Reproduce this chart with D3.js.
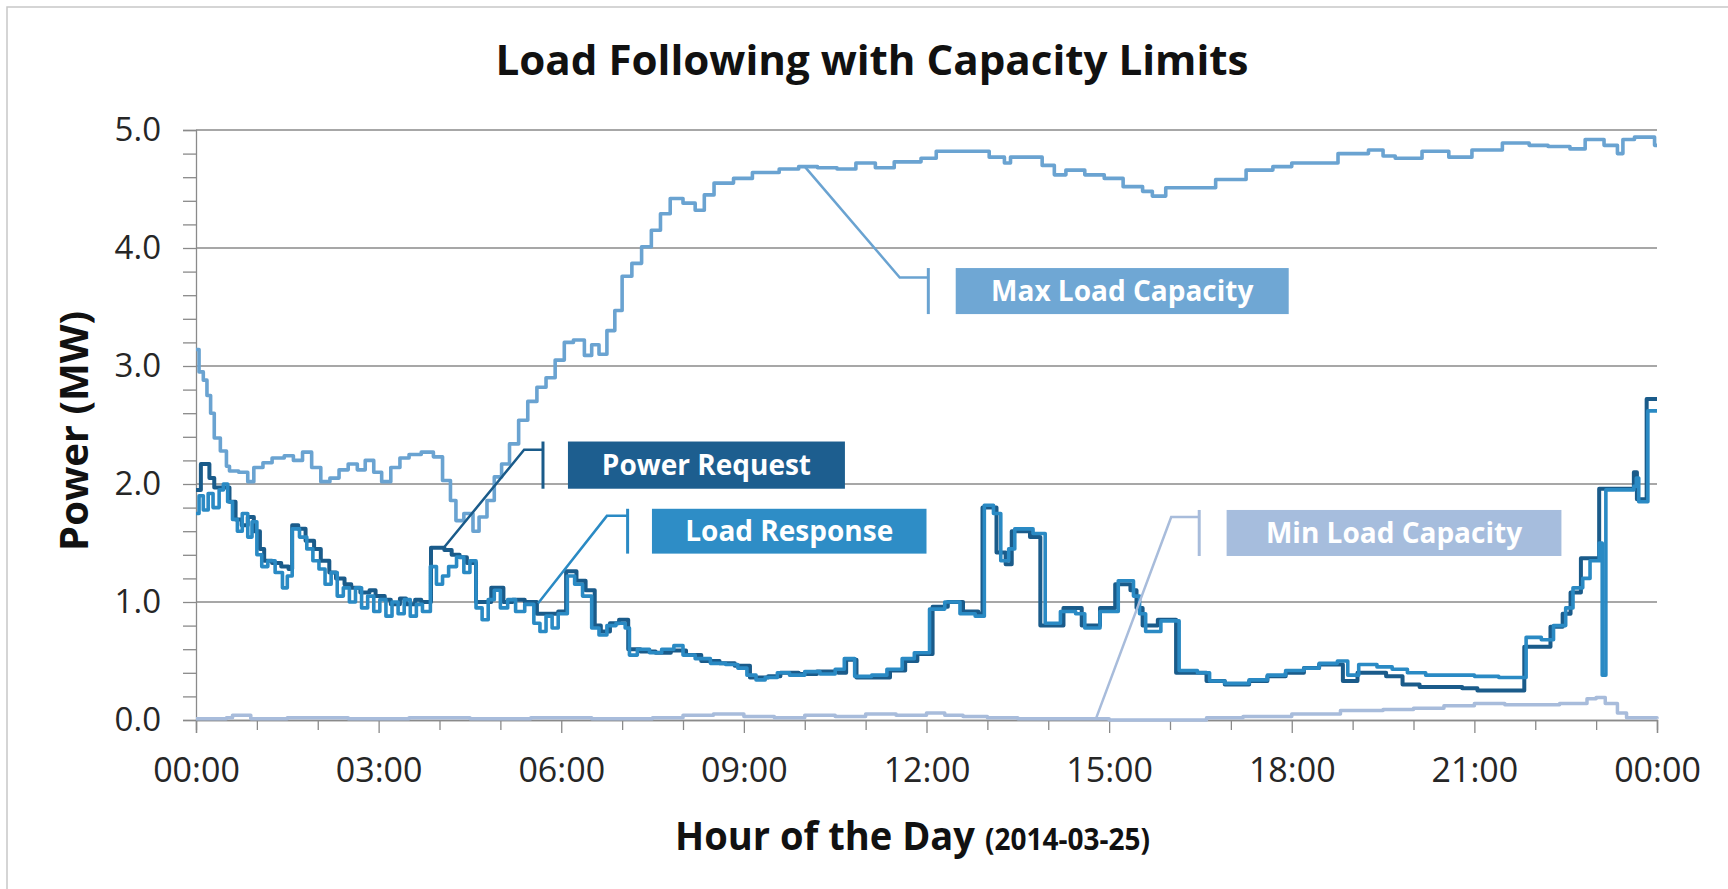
<!DOCTYPE html>
<html>
<head>
<meta charset="utf-8">
<script src="https://cdn.jsdelivr.net/npm/d3@7"></script>
<style>
  body { margin: 0; background: #fff; }
  svg { display: block; }
  text { font-family: "Open Sans", Lato, sans-serif; }
</style>
</head>
<body>
<div id="chart"></div>
<script>
// ---- data: [hour of day, MW] ----
const powerRequest = [
  [0.00,1.95],[0.08,2.17],[0.22,2.05],[0.30,1.97],[0.45,1.97],[0.55,1.85],[0.65,1.70],[0.75,1.65],
  [0.85,1.72],[0.95,1.60],[1.05,1.45],[1.12,1.35],[1.25,1.33],[1.40,1.30],[1.52,1.28],[1.58,1.65],
  [1.68,1.62],[1.80,1.52],[1.94,1.45],[2.05,1.35],[2.19,1.25],[2.30,1.20],[2.44,1.15],[2.55,1.12],
  [2.70,1.08],[2.85,1.10],[2.95,1.05],[3.10,1.02],[3.20,0.98],[3.35,1.03],[3.45,0.98],[3.60,1.02],
  [3.70,1.00],[3.86,1.46],[4.08,1.44],[4.20,1.40],[4.33,1.38],[4.45,1.33],[4.60,1.00],[4.75,1.00],
  [4.85,1.12],[5.05,1.00],[5.20,1.02],[5.40,1.00],[5.60,0.90],[5.95,0.92],[6.08,1.26],[6.25,1.18],
  [6.40,1.10],[6.55,0.80],[6.65,0.75],[6.80,0.82],[6.95,0.85],[7.10,0.60],[7.30,0.58],[7.55,0.57],
  [7.80,0.59],[8.05,0.55],[8.30,0.50],[8.60,0.48],[8.85,0.46],[9.10,0.36],[9.40,0.37],[9.60,0.40],
  [9.90,0.39],[10.20,0.41],[10.55,0.40],[10.68,0.51],[10.85,0.36],[11.40,0.42],[11.65,0.50],[11.85,0.56],
  [12.10,0.96],[12.35,1.00],[12.60,0.92],[12.85,0.90],[12.92,1.80],[13.15,1.42],[13.30,1.32],[13.40,1.60],
  [13.70,1.55],[13.87,0.80],[14.25,0.95],[14.55,0.80],[14.85,0.95],[15.10,1.15],[15.35,1.10],[15.45,0.95],
  [15.55,0.80],[15.80,0.85],[16.10,0.40],[16.60,0.33],[16.90,0.30],[17.30,0.33],[17.60,0.37],[17.90,0.40],
  [18.20,0.44],[18.45,0.47],[18.84,0.33],[19.08,0.40],[19.55,0.37],[19.82,0.30],[20.10,0.28],[20.80,0.27],
  [21.05,0.25],[21.82,0.62],[22.25,0.79],[22.45,0.90],[22.58,1.08],[22.75,1.37],[23.05,1.96],[23.62,2.10],
  [23.67,1.87],[23.83,2.72],[24.00,2.72]
];

const loadResponse = [
  [0.00,1.75],[0.05,1.90],[0.12,1.78],[0.20,1.92],[0.28,1.80],[0.38,1.95],[0.45,2.00],[0.52,1.85],
  [0.60,1.70],[0.68,1.60],[0.76,1.75],[0.85,1.55],[0.92,1.68],[1.00,1.40],[1.08,1.30],[1.18,1.35],
  [1.30,1.25],[1.42,1.12],[1.50,1.22],[1.58,1.62],[1.70,1.55],[1.82,1.45],[1.92,1.35],[2.02,1.28],
  [2.12,1.15],[2.22,1.25],[2.32,1.05],[2.42,1.12],[2.52,1.00],[2.62,1.12],[2.72,0.95],[2.82,1.05],
  [2.92,0.92],[3.02,1.02],[3.12,0.88],[3.22,1.00],[3.32,0.90],[3.42,1.02],[3.52,0.88],[3.62,0.98],
  [3.72,0.92],[3.85,1.30],[3.95,1.15],[4.05,1.22],[4.15,1.30],[4.28,1.38],[4.40,1.25],[4.50,1.35],
  [4.60,0.95],[4.70,0.85],[4.80,1.02],[4.90,1.10],[5.00,0.95],[5.12,1.02],[5.25,0.92],[5.40,0.98],
  [5.55,0.82],[5.65,0.75],[5.75,0.88],[5.85,0.78],[5.95,0.90],[6.10,1.22],[6.22,1.15],[6.35,1.05],
  [6.50,0.78],[6.62,0.72],[6.75,0.80],[6.90,0.82],[7.05,0.78],[7.12,0.55],[7.25,0.60],[7.45,0.57],
  [7.65,0.60],[7.85,0.63],[8.00,0.55],[8.20,0.52],[8.45,0.48],[8.70,0.47],[8.90,0.44],[9.05,0.38],
  [9.20,0.34],[9.35,0.36],[9.55,0.40],[9.75,0.38],[10.00,0.41],[10.25,0.39],[10.50,0.43],[10.65,0.52],
  [10.82,0.37],[11.10,0.38],[11.35,0.43],[11.60,0.52],[11.80,0.57],[12.05,0.94],[12.30,1.00],[12.55,0.90],
  [12.80,0.88],[12.95,1.82],[13.10,1.75],[13.22,1.35],[13.35,1.45],[13.45,1.62],[13.75,1.58],[13.95,0.82],
  [14.20,0.92],[14.45,0.90],[14.60,0.78],[14.85,0.92],[15.15,1.18],[15.40,1.05],[15.50,0.90],[15.60,0.75],
  [15.85,0.84],[16.15,0.42],[16.45,0.40],[16.65,0.33],[16.90,0.31],[17.30,0.34],[17.60,0.38],[17.90,0.42],
  [18.20,0.44],[18.45,0.48],[18.75,0.50],[18.92,0.38],[19.10,0.47],[19.40,0.45],[19.65,0.43],[19.90,0.40],
  [20.20,0.38],[20.60,0.38],[21.00,0.37],[21.40,0.36],[21.85,0.70],[22.10,0.68],[22.30,0.80],[22.50,0.95],
  [22.62,1.12],[22.78,1.20],[22.90,1.35],[23.05,1.50],[23.10,0.38],[23.16,1.95],[23.62,1.98],[23.66,2.05],
  [23.70,1.85],[23.85,2.62],[24.00,2.62]
];

const maxLoadCapacity = [
  [0.00,3.14],[0.05,2.95],[0.12,2.88],[0.18,2.75],[0.24,2.60],[0.30,2.39],[0.40,2.28],[0.50,2.15],
  [0.55,2.11],[0.70,2.10],[0.85,2.02],[0.95,2.14],[1.10,2.18],[1.25,2.22],[1.45,2.24],[1.60,2.20],
  [1.75,2.27],[1.90,2.14],[2.05,2.02],[2.20,2.05],[2.35,2.12],[2.50,2.17],[2.65,2.12],[2.78,2.20],
  [2.92,2.10],[3.05,2.02],[3.20,2.14],[3.35,2.22],[3.50,2.25],[3.70,2.27],[3.90,2.23],[4.05,2.03],
  [4.18,1.86],[4.27,1.69],[4.40,1.75],[4.55,1.60],[4.65,1.72],[4.78,1.86],[4.90,2.06],[5.02,2.17],
  [5.15,2.34],[5.30,2.54],[5.45,2.70],[5.60,2.82],[5.75,2.90],[5.90,3.05],[6.05,3.20],[6.20,3.22],
  [6.38,3.09],[6.50,3.18],[6.62,3.10],[6.75,3.30],[6.88,3.47],[7.00,3.76],[7.16,3.87],[7.32,4.01],
  [7.48,4.15],[7.63,4.29],[7.79,4.42],[8.00,4.38],[8.20,4.32],[8.35,4.45],[8.51,4.55],[8.83,4.59],
  [9.14,4.64],[9.58,4.67],[9.90,4.69],[10.21,4.68],[10.53,4.67],[10.84,4.72],[11.16,4.68],[11.47,4.73],
  [11.91,4.76],[12.16,4.82],[12.66,4.82],[13.03,4.77],[13.28,4.72],[13.38,4.77],[13.72,4.77],[13.90,4.70],
  [14.10,4.62],[14.29,4.66],[14.60,4.62],[14.92,4.59],[15.23,4.52],[15.55,4.48],[15.71,4.44],[15.93,4.51],
  [16.37,4.51],[16.75,4.58],[17.25,4.66],[17.69,4.69],[18.00,4.72],[18.44,4.72],[18.76,4.80],[19.26,4.83],
  [19.50,4.78],[19.70,4.76],[20.14,4.82],[20.58,4.77],[20.96,4.83],[21.46,4.89],[21.90,4.87],[22.21,4.86],
  [22.57,4.84],[22.82,4.92],[23.13,4.87],[23.35,4.80],[23.44,4.92],[23.63,4.94],[23.96,4.87],[24.00,4.87]
];

const minLoadCapacity = [
  [0.00,0.01],[0.50,0.02],[0.60,0.04],[0.90,0.01],[1.50,0.02],[2.50,0.01],[3.50,0.02],[4.50,0.01],
  [5.50,0.02],[6.50,0.01],[7.50,0.02],[8.00,0.04],[8.50,0.05],[9.00,0.03],[9.50,0.02],[10.00,0.04],
  [10.50,0.03],[11.00,0.05],[11.50,0.04],[12.00,0.06],[12.30,0.04],[12.60,0.03],[13.00,0.02],[13.50,0.01],
  [14.00,0.01],[15.00,0.00],[16.00,0.00],[16.60,0.02],[17.20,0.03],[18.00,0.05],[18.80,0.08],[19.50,0.09],
  [20.00,0.10],[20.50,0.12],[21.00,0.14],[21.50,0.13],[22.00,0.13],[22.40,0.14],[22.85,0.18],[23.00,0.19],
  [23.15,0.14],[23.35,0.06],[23.50,0.02],[24.00,0.01]
];

const xTickHours = [0, 3, 6, 9, 12, 15, 18, 21, 24];
const yTickValues = [0, 1, 2, 3, 4, 5];

// callout labels, anchored in data units
const callouts = [
  {label: "Max Load Capacity", at: [10.0, 4.69], elbow: [11.56, 3.75], cap: 12.03, box: [12.48, 17.95], top: 3.83, bottom: 3.44, color: "#6fa7d4", line: "#6aa3d1"},
  {label: "Power Request", at: [4.07, 1.46], elbow: [5.39, 2.29], cap: 5.70, box: [6.11, 10.66], top: 2.36, bottom: 1.96, color: "#1d5e8f", line: "#1a5b8a"},
  {label: "Load Response", at: [5.62, 0.99], elbow: [6.75, 1.73], cap: 7.09, box: [7.49, 12.0], top: 1.79, bottom: 1.41, color: "#2e8dc6", line: "#2a8ac4"},
  {label: "Min Load Capacity", at: [14.79, 0.02], elbow: [16.02, 1.72], cap: 16.48, box: [16.93, 22.43], top: 1.78, bottom: 1.39, color: "#a6bddd", line: "#a8bcdb"}
];

//--------------------------------------------------------------
const W = 1728, H = 889;
const svg = d3.select("#chart").append("svg").attr("width", W).attr("height", H);

// outer frame (top + left only visible)
svg.append("path").attr("d", `M7,${H} V7 H${W}`).attr("fill", "none").attr("stroke", "#c8c8c8").attr("stroke-width", 1.5);

const x = d3.scaleLinear().domain([0, 24]).range([196, 1657]);
const y = d3.scaleLinear().domain([0, 5]).range([720, 130]);

// gridlines
svg.append("g").selectAll("line")
  .data(yTickValues.filter(d => d > 0))
  .join("line")
  .attr("x1", x(0)).attr("x2", x(24))
  .attr("y1", d => y(d)).attr("y2", d => y(d))
  .attr("stroke", "#8a8a8a").attr("stroke-width", 1.3);

// y axis with minor ticks every 0.2
const yAxis = svg.append("g")
  .attr("transform", `translate(${x(0)},0)`)
  .call(d3.axisLeft(y)
    .tickValues(d3.range(0, 26).map(i => i / 5))
    .tickSize(13)
    .tickPadding(22)
    .tickFormat(d => Math.abs(d - Math.round(d)) < 1e-6 ? d.toFixed(1) : ""));
yAxis.select(".domain").attr("stroke", "#8a8a8a").attr("stroke-width", 1.3);
yAxis.selectAll(".tick line").attr("stroke", "#8a8a8a").attr("stroke-width", 1.3);
yAxis.selectAll("text").attr("font-size", 33).attr("fill", "#262626")
  .style("font-family", '"Open Sans", Lato, sans-serif');

// x axis: hourly ticks, labels every 3 hours
const xMinor = svg.append("g")
  .attr("transform", `translate(0,${y(0)})`)
  .call(d3.axisBottom(x).tickValues(d3.range(0, 25).filter(h => h % 3 !== 0)).tickSize(10).tickFormat(""));
const xAxis = svg.append("g")
  .attr("transform", `translate(0,${y(0)})`)
  .call(d3.axisBottom(x)
    .tickValues(xTickHours)
    .tickSize(13)
    .tickPadding(25)
    .tickFormat(h => String(h % 24).padStart(2, "0") + ":00"));
[xMinor, xAxis].forEach(g => {
  g.select(".domain").attr("stroke", "#8a8a8a").attr("stroke-width", 1.3);
  g.selectAll(".tick line").attr("stroke", "#8a8a8a").attr("stroke-width", 1.3);
});
xAxis.selectAll("text").attr("font-size", 34).attr("fill", "#262626")
  .style("font-family", '"Open Sans", Lato, sans-serif');

// series
const line = d3.line().x(d => x(d[0])).y(d => y(d[1])).curve(d3.curveStepAfter);
const series = [
  {data: minLoadCapacity, color: "#a8bcdb", w: 3.5},
  {data: maxLoadCapacity, color: "#6aa3d1", w: 3.6},
  {data: powerRequest, color: "#1a5b8a", w: 4},
  {data: loadResponse, color: "#2a8ac4", w: 3.6}
];
svg.append("g").selectAll("path")
  .data(series)
  .join("path")
  .attr("d", d => line(d.data))
  .attr("fill", "none")
  .attr("stroke", d => d.color)
  .attr("stroke-width", d => d.w)
  .attr("stroke-linejoin", "round");

// callouts
const co = svg.append("g").selectAll("g").data(callouts).join("g");
co.append("path")
  .attr("d", d => `M${x(d.at[0])},${y(d.at[1])} L${x(d.elbow[0])},${y(d.elbow[1])} H${x(d.cap)}`)
  .attr("fill", "none").attr("stroke", d => d.line).attr("stroke-width", 2.5);
co.append("line")
  .attr("x1", d => x(d.cap)).attr("x2", d => x(d.cap))
  .attr("y1", d => y(d.top)).attr("y2", d => y(d.bottom))
  .attr("stroke", d => d.line).attr("stroke-width", 3);
co.append("rect")
  .attr("x", d => x(d.box[0])).attr("y", d => y(d.top))
  .attr("width", d => x(d.box[1]) - x(d.box[0]))
  .attr("height", d => y(d.bottom) - y(d.top))
  .attr("fill", d => d.color);
co.append("text")
  .attr("x", d => (x(d.box[0]) + x(d.box[1])) / 2)
  .attr("y", d => (y(d.top) + y(d.bottom)) / 2 + 10)
  .attr("text-anchor", "middle")
  .attr("font-size", 28).attr("font-weight", "bold").attr("fill", "#fff")
  .text(d => d.label);

// titles
svg.append("text")
  .attr("x", 872).attr("y", 75)
  .attr("text-anchor", "middle")
  .attr("font-size", 42).attr("font-weight", "bold").attr("fill", "#111")
  .attr("textLength", 753).attr("lengthAdjust", "spacingAndGlyphs")
  .text("Load Following with Capacity Limits");

svg.append("text")
  .attr("transform", "translate(88,431) rotate(-90)")
  .attr("text-anchor", "middle")
  .attr("font-size", 40).attr("font-weight", "bold").attr("fill", "#111")
  .attr("textLength", 240).attr("lengthAdjust", "spacingAndGlyphs")
  .text("Power (MW)");

svg.append("text")
  .attr("x", 675).attr("y", 850)
  .attr("font-size", 40).attr("font-weight", "bold").attr("fill", "#111")
  .attr("textLength", 300).attr("lengthAdjust", "spacingAndGlyphs")
  .text("Hour of the Day");
svg.append("text")
  .attr("x", 985).attr("y", 850)
  .attr("font-size", 31).attr("font-weight", "bold").attr("fill", "#111")
  .attr("textLength", 165).attr("lengthAdjust", "spacingAndGlyphs")
  .text("(2014-03-25)");
</script>
</body>
</html>
